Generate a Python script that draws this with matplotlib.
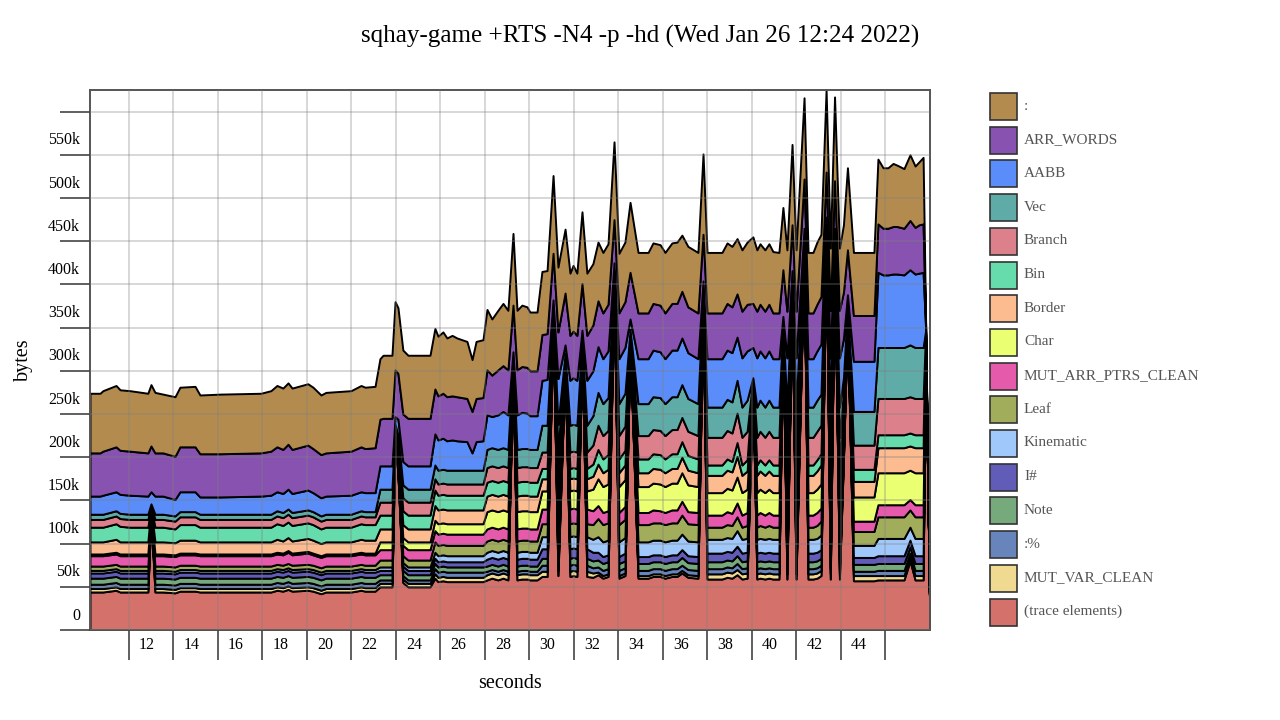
import matplotlib
matplotlib.use("Agg")
import matplotlib.pyplot as plt
from matplotlib import transforms
from matplotlib.patches import Rectangle

plt.rcParams['font.family'] = ['Liberation Serif', 'DejaVu Serif']

# sample times (seconds)
seconds = [
    10.25, 10.70, 10.83, 11.42, 11.60, 12.04, 12.85, 12.99, 13.17, 13.53, 14.07, 14.29, 14.97, 15.19, 16.09,
    17.93, 18.38, 18.65, 18.92, 19.15, 19.33, 20.04, 20.27, 20.63, 20.85, 21.98, 22.43, 22.61, 23.06,
    23.28, 23.42, 23.82, 23.96, 24.09, 24.31, 24.54, 25.53,
    25.75, 25.89, 26.11, 26.29, 26.52, 26.74, 27.19, 27.42, 27.60, 27.91,
    28.09, 28.31, 28.58, 28.81, 29.03, 29.26, 29.44, 29.66, 29.89, 30.02, 30.34,
    30.56, 30.79, 31.06, 31.28, 31.60, 31.82, 31.96, 32.13, 32.36, 32.58,
    32.85, 33.08, 33.30, 33.53, 33.80, 34.02, 34.29, 34.52, 34.88, 35.33, 35.55, 35.87, 36.09, 36.40,
    36.63, 36.85, 37.12, 37.57, 37.80,
    37.98, 38.65, 38.88, 39.10, 39.33, 39.55, 39.78, 40.04, 40.22, 40.36, 40.58, 40.76, 40.94, 41.21,
    41.39, 41.57, 41.80, 41.98, 42.34, 42.52, 42.74, 42.92, 43.10, 43.33, 43.52, 43.71, 43.93, 44.11,
    44.29, 44.56, 45.48,
    45.66, 45.89, 46.11, 46.34, 46.52, 46.83, 47.10, 47.33, 47.51, 47.69, 47.80, 48.00,
]

# heap usage per closure type, in kilobytes (bottom of the stack first)
trace_elements = [
    44, 44, 44, 46, 44, 44, 44, 132, 44, 44, 43, 45, 45, 44, 44, 44, 44, 46, 45, 47, 45, 46, 45, 42, 44, 44, 46, 45, 45,
    50, 50, 50, 221, 179, 55, 50, 50,
    60, 56, 57, 56, 56, 56, 56, 56, 56, 56,
    58, 60, 58, 60, 58, 300, 58, 59, 59, 58, 58,
    62, 62, 355, 63, 305, 62, 63, 62, 322, 62,
    61, 64, 60, 62, 393, 60, 63, 330, 60, 60, 62, 62, 60, 62, 62, 66, 61, 60, 372,
    59, 59, 61, 60, 64, 59, 60, 278, 59, 60, 59, 60, 59, 59, 338, 59, 384, 59, 433, 59, 59, 60, 63, 446, 59, 433,
    59, 197, 358, 57, 57,
    58, 58, 58, 58, 58, 58, 80, 58, 58, 58, 334, 0,
]
mut_var_clean = [
    4, 4, 4, 4, 4, 4, 4, 1, 4, 4, 4, 4, 4, 4, 4, 4, 4, 4, 4, 4, 4, 4, 4, 4, 4, 4, 4, 4, 4,
    4, 4, 4, 1, 2, 4, 4, 4,
    5, 5, 5, 5, 5, 5, 5, 5, 5, 5,
    6, 6, 6, 6, 6, 1, 6, 6, 6, 6, 6,
    6, 6, 1, 6, 1, 6, 6, 6, 1, 6,
    5, 3, 3, 3, 1, 3, 3, 1, 3, 3, 3, 3, 3, 3, 3, 3, 3, 3, 1,
    6, 6, 6, 6, 6, 6, 6, 1, 6, 6, 6, 6, 6, 6, 1, 6, 1, 6, 1, 6, 6, 6, 6, 1, 6, 1, 6, 3, 1, 6, 6,
    5, 5, 5, 5, 5, 5, 4, 5, 5, 5, 1, 0,
]
colon_pct = [
    5, 5, 5, 5, 5, 5, 5, 1, 5, 5, 5, 5, 5, 5, 5, 5, 5, 5, 5, 5, 5, 5, 5, 5, 5, 5, 5, 5, 5,
    4, 4, 4, 1, 2, 4, 4, 4,
    6, 6, 6, 6, 6, 6, 6, 6, 6, 6,
    4, 4, 4, 4, 4, 1, 4, 4, 4, 4, 4,
    7, 7, 1, 7, 1, 7, 7, 7, 1, 7,
    6, 6, 6, 6, 1, 6, 6, 1, 6, 6, 6, 6, 6, 6, 6, 6, 6, 6, 1,
    6, 6, 6, 6, 7, 6, 6, 1, 6, 6, 6, 6, 6, 6, 1, 6, 1, 6, 1, 6, 6, 6, 6, 1, 6, 1, 6, 3, 1, 5, 5,
    6, 6, 6, 6, 6, 6, 5, 6, 6, 6, 1, 0,
]
note = [
    7, 7, 7, 7, 7, 7, 7, 1, 7, 7, 7, 7, 7, 7, 7, 7, 7, 7, 7, 7, 7, 7, 7, 7, 7, 7, 7, 7, 7,
    6, 6, 6, 1, 3, 6, 6, 6,
    6, 6, 6, 6, 6, 6, 6, 6, 6, 6,
    6, 6, 6, 6, 6, 1, 6, 6, 6, 6, 6,
    8, 8, 1, 8, 1, 8, 8, 8, 1, 8,
    8, 8, 8, 8, 1, 8, 8, 1, 8, 8, 8, 8, 8, 8, 8, 9, 8, 8, 1,
    8, 8, 8, 8, 9, 8, 8, 1, 8, 8, 8, 8, 8, 8, 1, 8, 1, 8, 1, 8, 8, 8, 8, 1, 8, 1, 8, 4, 1, 8, 8,
    8, 8, 8, 8, 8, 8, 7, 8, 8, 8, 1, 0,
]
i_hash = [
    6, 6, 6, 6, 6, 6, 6, 1, 6, 6, 6, 6, 6, 6, 6, 6, 6, 6, 6, 6, 6, 6, 6, 6, 6, 6, 6, 6, 6,
    5, 5, 5, 1, 3, 5, 5, 5,
    6, 6, 6, 6, 6, 6, 6, 6, 6, 6,
    8, 8, 8, 8, 8, 1, 8, 8, 8, 8, 8,
    11, 11, 1, 11, 1, 11, 11, 11, 1, 11,
    10, 9, 8, 8, 1, 8, 9, 1, 8, 8, 8, 8, 8, 8, 8, 9, 8, 8, 1,
    10, 10, 10, 10, 11, 10, 10, 1, 10, 10, 10, 10, 10, 10, 1, 10, 1, 10, 1, 10, 10, 10, 10, 1, 10, 1, 10, 5, 1, 8, 8,
    9, 9, 9, 9, 9, 9, 8, 9, 9, 9, 1, 0,
]
kinematic = [
    3, 3, 3, 3, 3, 3, 3, 0.5, 3, 3, 3, 3, 3, 3, 3, 3, 3, 3, 3, 3, 3, 3, 3, 3, 3, 3, 3, 3, 3,
    4, 4, 4, 1, 2, 4, 4, 4,
    7, 7, 7, 7, 7, 7, 7, 7, 7, 7,
    8, 8, 8, 8, 8, 1, 8, 8, 8, 8, 8,
    14, 14, 2, 14, 1, 14, 14, 14, 1, 14,
    15, 18, 17, 17, 2, 17, 18, 2, 17, 17, 17, 17, 17, 17, 17, 18, 17, 17, 2,
    16, 16, 16, 16, 18, 16, 16, 1, 16, 16, 16, 16, 16, 16, 1, 16, 2, 16, 2, 16, 16, 16, 17, 2, 16, 2, 16, 7, 2, 14, 14,
    20, 20, 20, 20, 20, 20, 15, 20, 20, 20, 1, 0,
]
leaf = [
    5, 5, 5, 5, 5, 5, 5, 1, 5, 5, 5, 5, 5, 5, 5, 5, 5, 5, 5, 5, 5, 5, 5, 5, 5, 5, 5, 5, 5,
    8, 8, 8, 1, 4, 8, 8, 8,
    12, 12, 12, 12, 12, 12, 12, 12, 12, 12,
    13, 13, 13, 13, 13, 1, 13, 13, 13, 13, 13,
    15, 15, 2, 15, 1, 15, 15, 15, 1, 15,
    17, 21, 20, 20, 2, 20, 21, 2, 20, 20, 20, 20, 20, 20, 20, 22, 20, 20, 2,
    14, 14, 15, 15, 16, 14, 15, 1, 14, 15, 14, 15, 14, 14, 1, 14, 2, 14, 2, 14, 14, 15, 16, 2, 14, 2, 14, 7, 2, 16, 16,
    25, 25, 25, 25, 25, 25, 20, 25, 25, 25, 1, 0,
]
mut_arr_ptrs_clean = [
    12, 12, 12, 12, 12, 12, 12, 2, 12, 12, 12, 12, 12, 12, 12, 12, 12, 12, 12, 13, 12, 13, 12, 12, 12, 12, 12, 12, 12,
    12, 12, 12, 2, 5, 12, 12, 12,
    13, 13, 13, 13, 13, 13, 13, 13, 13, 13,
    14, 14, 14, 14, 14, 1, 14, 14, 14, 14, 14,
    17, 17, 2, 17, 2, 17, 17, 17, 2, 17,
    16, 15, 14, 14, 2, 14, 15, 2, 14, 14, 15, 14, 14, 15, 15, 16, 14, 14, 2,
    14, 14, 15, 14, 16, 14, 15, 1, 14, 15, 14, 15, 14, 14, 2, 14, 2, 14, 2, 14, 14, 15, 15, 2, 14, 2, 14, 7, 2, 12, 12,
    14, 14, 14, 14, 14, 14, 12, 14, 14, 14, 1, 0,
]
char = [
    2, 2, 2, 2, 2, 2, 2, 0.5, 2, 2, 2, 2, 2, 2, 2, 2, 2, 2, 2, 2, 2, 2, 2, 2, 2, 2, 2, 2, 2,
    9, 9, 9, 2, 4, 9, 9, 9,
    12, 12, 12, 12, 12, 12, 12, 12, 12, 12,
    20, 20, 20, 20, 20, 2, 20, 20, 20, 20, 20,
    21, 21, 2, 21, 2, 21, 21, 21, 2, 21,
    25, 31, 30, 31, 3, 30, 31, 2, 30, 30, 31, 31, 30, 31, 31, 33, 31, 30, 3,
    26, 26, 27, 27, 30, 26, 27, 2, 26, 27, 26, 27, 26, 26, 2, 26, 3, 26, 3, 26, 26, 27, 28, 3, 26, 3, 26, 12, 2, 28, 28,
    37, 37, 37, 37, 37, 37, 34, 37, 37, 37, 1, 0,
]
border = [
    14, 14, 14, 15, 14, 14, 14, 2, 14, 14, 14, 15, 15, 14, 14, 14, 14, 15, 14, 15, 14, 15, 15, 14, 14, 14, 15, 15, 15,
    15, 15, 15, 2, 6, 15, 15, 15,
    17, 16, 16, 16, 16, 16, 16, 16, 16, 16,
    18, 18, 18, 18, 18, 2, 18, 18, 18, 18, 18,
    14, 14, 1, 14, 1, 14, 14, 14, 1, 14,
    15, 17, 16, 17, 2, 16, 17, 2, 16, 16, 17, 17, 16, 17, 17, 18, 17, 16, 2,
    20, 20, 21, 21, 24, 20, 21, 2, 20, 21, 20, 21, 20, 20, 1, 20, 2, 20, 2, 20, 20, 21, 22, 2, 20, 2, 20, 9, 2, 18, 18,
    29, 29, 29, 29, 29, 29, 28, 29, 29, 29, 1, 0,
]
bin_ = [
    17, 17, 17, 18, 18, 17, 17, 2, 17, 17, 16, 18, 18, 17, 17, 17, 17, 18, 18, 18, 18, 18, 18, 17, 17, 17, 18, 18, 18,
    16, 16, 16, 2, 6, 16, 16, 16,
    18, 17, 17, 17, 17, 17, 17, 17, 17, 17,
    16, 16, 16, 16, 16, 1, 16, 16, 16, 16, 16,
    12, 12, 1, 12, 1, 12, 12, 12, 1, 12,
    14, 17, 16, 17, 2, 16, 17, 1, 16, 16, 17, 17, 16, 17, 17, 18, 17, 16, 2,
    12, 12, 13, 12, 16, 12, 13, 1, 12, 13, 12, 13, 12, 12, 1, 12, 2, 12, 2, 12, 12, 13, 13, 2, 12, 2, 12, 6, 1, 14, 14,
    15, 15, 15, 15, 15, 15, 15, 15, 15, 15, 1, 0,
]
branch = [
    9, 9, 9, 9, 9, 9, 9, 1, 9, 9, 9, 9, 9, 9, 9, 9, 9, 9, 9, 9, 9, 9, 9, 9, 9, 9, 9, 9, 9,
    15, 15, 15, 2, 5, 15, 15, 15,
    13, 13, 13, 13, 13, 13, 13, 13, 13, 13,
    17, 17, 17, 17, 17, 1, 17, 17, 17, 17, 17,
    19, 19, 1, 19, 1, 19, 19, 19, 1, 19,
    22, 28, 27, 28, 2, 27, 28, 2, 27, 27, 28, 28, 27, 28, 28, 28, 28, 27, 2,
    32, 32, 33, 33, 34, 32, 33, 1, 32, 33, 32, 33, 32, 32, 1, 32, 2, 32, 2, 32, 32, 33, 33, 2, 32, 2, 32, 15, 2, 28, 28,
    42, 42, 42, 42, 42, 42, 42, 42, 42, 42, 1, 0,
]
vec = [
    6, 6, 6, 6, 6, 6, 6, 1, 6, 6, 6, 6, 6, 6, 6, 6, 6, 6, 6, 6, 6, 6, 6, 6, 6, 6, 6, 6, 6,
    15, 15, 15, 1, 5, 15, 15, 15,
    16, 16, 16, 16, 16, 16, 16, 16, 16, 16,
    21, 21, 21, 21, 21, 1, 21, 21, 21, 21, 21,
    31, 31, 2, 31, 2, 31, 31, 31, 2, 31,
    34, 38, 37, 38, 1, 37, 38, 1, 37, 37, 38, 38, 37, 38, 38, 38, 38, 37, 1,
    35, 35, 36, 36, 38, 35, 36, 1, 35, 36, 35, 36, 35, 35, 2, 35, 1, 35, 1, 35, 35, 36, 36, 1, 35, 1, 35, 17, 1, 39, 39,
    59, 59, 59, 59, 59, 59, 60, 59, 59, 59, 1, 0,
]
aabb = [
    21, 21, 22, 22, 22, 22, 21, 14, 21, 21, 19, 23, 23, 20, 20, 21, 22, 22, 22, 23, 22, 23, 22, 21, 21, 22, 22, 22, 22,
    27, 27, 27, 9, 18, 27, 27, 27,
    36, 35, 36, 34, 35, 34, 33, 20, 33, 34,
    40, 36, 40, 42, 40, 8, 40, 42, 41, 39, 39,
    52, 53, 10, 53, 10, 52, 54, 52, 10, 52,
    52, 53, 52, 54, 12, 52, 53, 12, 52, 52, 54, 53, 52, 54, 54, 54, 53, 52, 12,
    56, 56, 57, 57, 50, 57, 57, 35, 57, 57, 57, 57, 56, 56, 10, 57, 12, 57, 12, 56, 56, 57, 58, 12, 57, 12, 57, 45,
    12, 58, 58,
    87, 84, 84, 85, 85, 84, 87, 85, 86, 87, 5, 0,
]
arr_words = [
    50, 50, 51, 52, 51, 51, 50, 53, 50, 50, 50, 52, 52, 50, 50, 50, 51, 52, 51, 52, 51, 52, 51, 50, 50, 51, 52, 51, 52,
    54, 55, 55, 54, 53, 55, 55, 55,
    52, 51, 52, 51, 51, 51, 50, 48, 50, 50,
    52, 48, 52, 53, 52, 54, 52, 53, 53, 52, 52,
    53, 53, 54, 54, 60, 52, 54, 52, 54, 52,
    53, 53, 53, 54, 50, 53, 53, 54, 53, 53, 54, 54, 53, 54, 54, 54, 53, 53, 54,
    53, 53, 54, 53, 50, 54, 54, 51, 54, 54, 54, 54, 53, 53, 54, 54, 53, 54, 57, 53, 53, 54, 55, 52, 55, 55, 55, 54,
    52, 53, 53,
    56, 54, 54, 55, 55, 54, 57, 54, 56, 56, 5, 0,
]
colon = [
    69, 69, 70, 71, 70, 70, 69, 71, 70, 68, 69, 69, 70, 68, 69, 69, 70, 71, 71, 71, 71, 71, 71, 69, 70, 70, 71, 71, 71,
    70, 73, 73, 79, 76, 74, 73, 73,
    70, 69, 71, 68, 70, 68, 66, 60, 66, 67,
    70, 65, 69, 72, 69, 83, 69, 71, 70, 68, 68,
    73, 73, 90, 75, 74, 72, 76, 72, 83, 72,
    71, 68, 70, 70, 90, 69, 69, 81, 70, 70, 70, 70, 70, 70, 71, 65, 70, 70, 93,
    70, 70, 70, 70, 64, 71, 72, 77, 71, 70, 71, 70, 71, 70, 72, 71, 93, 71, 94, 70, 70, 72, 72, 95, 72, 97, 72, 78,
    95, 73, 73,
    75, 70, 70, 73, 71, 69, 76, 71, 73, 77, 5, 0,
]

series = [trace_elements, mut_var_clean, colon_pct, note, i_hash, kinematic, leaf,
          mut_arr_ptrs_clean, char, border, bin_, branch, vec, aabb, arr_words, colon]
names = ['(trace elements)', 'MUT_VAR_CLEAN', ':%', 'Note', 'I#', 'Kinematic', 'Leaf',
         'MUT_ARR_PTRS_CLEAN', 'Char', 'Border', 'Bin', 'Branch', 'Vec', 'AABB', 'ARR_WORDS', ':']
colors = ['#d4716a', '#f0da92', '#6784bb', '#76aa7d', '#625cb9', '#a0c8fb', '#a2ad5c',
          '#e65aab', '#eaff72', '#fdbb90', '#66dbab', '#dc818c', '#5faba8', '#5a8cfa', '#8852b0', '#b38b4f']

y_ticks = [0, 50, 100, 150, 200, 250, 300, 350, 400, 450, 500, 550, 600]
x_ticks = [12, 14, 16, 18, 20, 22, 24, 26, 28, 30, 32, 34, 36, 38, 40, 42, 44, 46]

fig = plt.figure(figsize=(12.8, 7.2), dpi=100)
ax = fig.add_axes([90 / 1280, 90 / 720, 840 / 1280, 540 / 720])

ax.stackplot(seconds, *series, colors=colors, edgecolor='black', linewidth=1.4)
totals = [sum(v) for v in zip(*series)]
ax.set_xlim(seconds[0], seconds[-1])
ax.set_ylim(0, max(totals))

ax.set_xticks(x_ticks)
ax.set_yticks(y_ticks)
ax.tick_params(axis='both', direction='out', length=21.6, width=1.2, color='#444444',
               labelleft=False, labelbottom=False)
ax.set_axisbelow(False)
ax.grid(True, color='#808080', alpha=0.4, linewidth=1.1)
for s in ax.spines.values():
    s.set_color('#555555')
    s.set_linewidth(1.4)

# tick labels sit between the tick lines
ytrans = transforms.blended_transform_factory(ax.transAxes, ax.transData) + \
    transforms.ScaledTranslation(-0.10, 0.145, fig.dpi_scale_trans)
for v in y_ticks[:-1]:
    ax.text(0, v, '0' if v == 0 else f'{v}k', transform=ytrans, ha='right', va='center',
            fontsize=11.5, color='black')
xtrans = transforms.blended_transform_factory(ax.transData, ax.transAxes) + \
    transforms.ScaledTranslation(0.18, -0.15, fig.dpi_scale_trans)
for t in x_ticks[:-1]:
    ax.text(t, 0, str(t), transform=xtrans, ha='center', va='center', fontsize=11.5, color='black')

fig.text(640 / 1280, 1 - 36 / 720, 'sqhay-game +RTS -N4 -p -hd (Wed Jan 26 12:24 2022)',
         ha='center', va='center', fontsize=18.1)
fig.text(510 / 1280, 1 - 683 / 720, 'seconds', ha='center', va='center', fontsize=14.5)
fig.text(23 / 1280, 1 - 360 / 720, 'bytes', ha='center', va='center', rotation=90, fontsize=14.5)

# legend, top band first
lax = fig.add_axes([0, 0, 1, 1])
lax.set_xlim(0, 1280)
lax.set_ylim(720, 0)
lax.axis('off')
for i, (name, col) in enumerate(zip(names[::-1], colors[::-1])):
    y0 = 93 + i * 33.7
    lax.add_patch(Rectangle((990, y0), 27, 27, facecolor=col, edgecolor='#333333', linewidth=1.2))
    lax.text(1024, y0 + 13, name, ha='left', va='center', fontsize=11, color='#555555')

fig.savefig('out.png', dpi=100)
